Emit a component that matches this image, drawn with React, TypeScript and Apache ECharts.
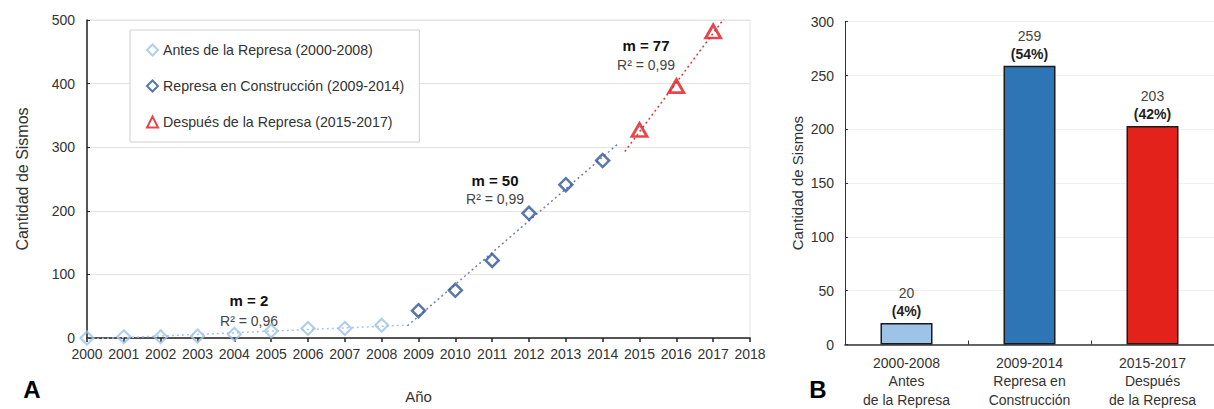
import { useEffect, useRef } from "react";
import * as echarts from "echarts";

// ---------- data ----------
const beforeYears = [2000, 2001, 2002, 2003, 2004, 2005, 2006, 2007, 2008];
const beforeCounts = [0, 2, 2, 3, 6, 11, 15, 15, 20];
const constructionYears = [2009, 2010, 2011, 2012, 2013, 2014];
const constructionCounts = [43, 75, 122, 196, 241, 279];
const afterYears = [2015, 2016, 2017];
const afterCounts = [327, 396, 482];

const seriesNames = [
  "Antes de la Represa (2000-2008)",
  "Represa en Construcción (2009-2014)",
  "Después de la Represa (2015-2017)",
];
const slopeLabels = ["m = 2", "m = 50", "m = 77"];
const r2Labels = ["R² = 0,96", "R² = 0,99", "R² = 0,99"];
// x-extent of each dotted trend line (years)
const trendRanges = [
  [2000, 2008.7],
  [2008.7, 2014.45],
  [2014.6, 2017.3],
];

const periodLabels = [
  "2000-2008\nAntes\nde la Represa",
  "2009-2014\nRepresa en\nConstrucción",
  "2015-2017\nDespués\nde la Represa",
];
const periodCounts = [20, 259, 203];

const yAxisTitle = "Cantidad de Sismos";
const xAxisTitle = "Año";

// ---------- styles ----------
const FONT = '"Liberation Sans Narrow", "Arial Narrow", "Liberation Sans", Arial, sans-serif';
const C_LIGHT = "#9DC3E6";
const C_DARK = "#2F5597";
const C_RED = "#E0191E";
const BAR_COLORS = ["#9DC3E6", "#2E75B6", "#E3221C"];
const TREND_COLORS = ["#A8C4E4", "#7382A6", "#E0393B"];

function fit(xs: number[], ys: number[]) {
  const n = xs.length;
  const mx = xs.reduce((a, b) => a + b, 0) / n;
  const my = ys.reduce((a, b) => a + b, 0) / n;
  let sxy = 0,
    sxx = 0;
  for (let i = 0; i < n; i++) {
    sxy += (xs[i] - mx) * (ys[i] - my);
    sxx += (xs[i] - mx) ** 2;
  }
  const m = sxy / sxx;
  return (x: number) => my + m * (x - mx);
}

export default function App() {
  const ref = useRef<HTMLDivElement>(null);
  useEffect(() => {
    document.body.style.margin = "0";
    const chart = echarts.init(ref.current!, null, { renderer: "svg" });
    const groups = [
      [beforeYears, beforeCounts],
      [constructionYears, constructionCounts],
      [afterYears, afterCounts],
    ];
    const trends = groups.map(([xs, ys], i) => {
      const f = fit(xs as number[], ys as number[]);
      const [a, b] = trendRanges[i];
      return {
        type: "line",
        xAxisIndex: 0,
        yAxisIndex: 0,
        data: [
          [a, f(a)],
          [b, f(b)],
        ],
        symbol: "none",
        silent: true,
        clip: true,
        lineStyle: { color: TREND_COLORS[i], width: 1.5, type: [2, 3] },
        z: 1,
      };
    });
    const total = periodCounts.reduce((a, b) => a + b, 0);

    const axisText = { fontFamily: FONT, fontSize: 14, color: "#333" };

    chart.setOption({
      animation: false,
      textStyle: { fontFamily: FONT },
      grid: [
        { left: 87, top: 20, width: 663, height: 329, show: true, borderColor: "#e4e4e4", borderWidth: 1 },
        { left: 845, top: 21.7, width: 378, height: 324 },
      ],
      legend: {
        data: seriesNames,
        orient: "vertical",
        left: 130,
        top: 30,
        padding: [12, 15, 12, 16],
        itemGap: 20,
        itemWidth: 11,
        itemHeight: 11,
        borderColor: "#cfcfcf",
        borderWidth: 1,
        backgroundColor: "#fff",
        textStyle: { fontFamily: FONT, fontSize: 14.2, color: "#333", lineHeight: 16 },
      },
      xAxis: [
        {
          type: "value",
          gridIndex: 0,
          min: 2000,
          max: 2018,
          interval: 1,
          name: xAxisTitle,
          nameLocation: "middle",
          nameGap: 51,
          nameTextStyle: { fontFamily: FONT, fontSize: 15, color: "#333" },
          axisLine: { lineStyle: { color: "#222", width: 1.5 } },
          axisTick: { show: true, length: 4, lineStyle: { color: "#222", width: 1.5 } },
          axisLabel: { ...axisText, margin: 9, formatter: (v: number) => String(v) },
          splitLine: { show: false },
        },
        {
          type: "category",
          gridIndex: 1,
          data: periodLabels,
          axisLine: { lineStyle: { color: "#333", width: 1.5 } },
          axisTick: { show: true, inside: true, length: 4, alignWithLabel: false, lineStyle: { color: "#333" } },
          axisLabel: { ...axisText, margin: 9, lineHeight: 18.5, interval: 0 },
        },
      ],
      yAxis: [
        {
          type: "value",
          gridIndex: 0,
          min: 0,
          max: 500,
          interval: 100,
          name: yAxisTitle,
          nameLocation: "middle",
          nameRotate: 90,
          nameGap: 57,
          nameTextStyle: { fontFamily: FONT, fontSize: 16, color: "#333" },
          axisLine: { show: true, lineStyle: { color: "#222", width: 1.5 } },
          axisTick: { show: true, inside: true, length: 3, lineStyle: { color: "#222" } },
          axisLabel: { ...axisText, margin: 12 },
          splitLine: { lineStyle: { color: "#e4e4e4", width: 1 } },
        },
        {
          type: "value",
          gridIndex: 1,
          min: 0,
          max: 300,
          interval: 50,
          name: yAxisTitle,
          nameLocation: "middle",
          nameRotate: 90,
          nameGap: 40,
          nameTextStyle: { fontFamily: FONT, fontSize: 15, color: "#333" },
          axisLine: { show: true, lineStyle: { color: "#333", width: 1 } },
          axisTick: { show: true, inside: true, length: 3, lineStyle: { color: "#333" } },
          axisLabel: { ...axisText, margin: 11 },
          splitLine: { lineStyle: { color: "#efefef", width: 1 } },
        },
      ],
      series: [
        ...trends,
        {
          name: seriesNames[0],
          type: "scatter",
          xAxisIndex: 0,
          yAxisIndex: 0,
          symbol: "diamond",
          symbolSize: 13,
          data: beforeYears.map((y, i) => [y, beforeCounts[i]]),
          itemStyle: { color: "rgba(255,255,255,0)", borderColor: C_LIGHT, borderWidth: 2.2 },
          z: 3,
        },
        {
          name: seriesNames[1],
          type: "scatter",
          xAxisIndex: 0,
          yAxisIndex: 0,
          symbol: "diamond",
          symbolSize: 13,
          data: constructionYears.map((y, i) => [y, constructionCounts[i]]),
          itemStyle: { color: "rgba(255,255,255,0)", borderColor: C_DARK, borderWidth: 2.5 },
          z: 3,
        },
        {
          name: seriesNames[2],
          type: "scatter",
          xAxisIndex: 0,
          yAxisIndex: 0,
          symbol: "triangle",
          symbolSize: [15, 13],
          data: afterYears.map((y, i) => [y, afterCounts[i]]),
          itemStyle: { color: "rgba(255,255,255,0)", borderColor: C_RED, borderWidth: 2.8 },
          z: 3,
        },
        {
          type: "bar",
          xAxisIndex: 1,
          yAxisIndex: 1,
          barWidth: 52,
          data: periodCounts.map((v, i) => ({
            value: v,
            itemStyle: { color: BAR_COLORS[i] },
          })),
          itemStyle: { borderColor: "#1a1a1a", borderWidth: 1.5 },
          label: {
            show: true,
            position: "top",
            distance: 3,
            formatter: (p: any) => `{a|${p.value}}\n{b|(${Math.round((p.value / total) * 100)}%)}`,
            rich: {
              a: { fontFamily: FONT, fontSize: 14, color: "#444", lineHeight: 18 },
              b: { fontFamily: FONT, fontSize: 14, fontWeight: "bold", color: "#222", lineHeight: 18 },
            },
          },
        },
      ],
      graphic: [
        { type: "text", x: 249, y: 300, style: { text: slopeLabels[0], fontFamily: FONT, fontSize: 15, fontWeight: "bold", fill: "#111", align: "center", verticalAlign: "middle" } },
        { type: "text", x: 249, y: 321, style: { text: r2Labels[0], fontFamily: FONT, fontSize: 14, fill: "#444", align: "center", verticalAlign: "middle" } },
        { type: "text", x: 495, y: 180, style: { text: slopeLabels[1], fontFamily: FONT, fontSize: 15, fontWeight: "bold", fill: "#111", align: "center", verticalAlign: "middle" } },
        { type: "text", x: 495, y: 199, style: { text: r2Labels[1], fontFamily: FONT, fontSize: 14, fill: "#444", align: "center", verticalAlign: "middle" } },
        { type: "text", x: 646, y: 45, style: { text: slopeLabels[2], fontFamily: FONT, fontSize: 15, fontWeight: "bold", fill: "#111", align: "center", verticalAlign: "middle" } },
        { type: "text", x: 646, y: 65, style: { text: r2Labels[2], fontFamily: FONT, fontSize: 14, fill: "#444", align: "center", verticalAlign: "middle" } },
        { type: "text", x: 32, y: 389, style: { text: "A", fontFamily: "Liberation Sans, Arial, sans-serif", fontSize: 24, fontWeight: "bold", fill: "#000", align: "center", verticalAlign: "middle" } },
        { type: "text", x: 818, y: 389, style: { text: "B", fontFamily: "Liberation Sans, Arial, sans-serif", fontSize: 24, fontWeight: "bold", fill: "#000", align: "center", verticalAlign: "middle" } },
      ],
    });
    return () => chart.dispose();
  }, []);
  return <div ref={ref} style={{ width: 1214, height: 409 }} />;
}
